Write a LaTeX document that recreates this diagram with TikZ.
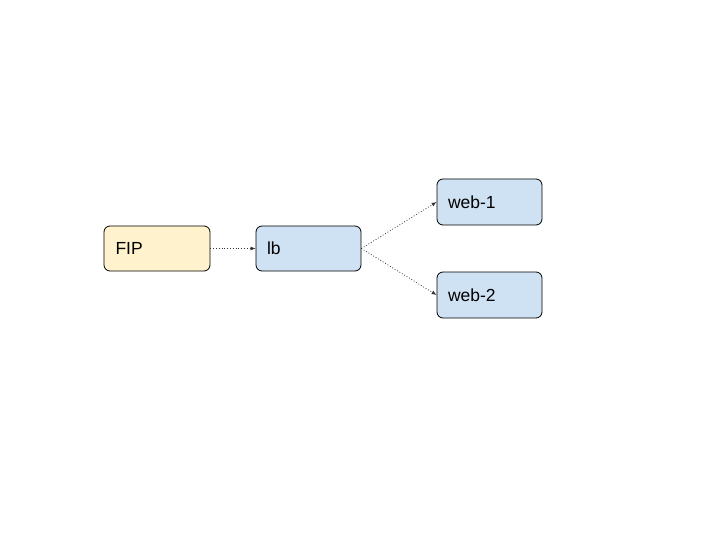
\documentclass[tikz,border=0pt]{standalone}
\usepackage{fontspec}
\setmainfont{Liberation Sans}
\usetikzlibrary{arrows.meta}
\definecolor{fipfill}{HTML}{FFF2CC}
\definecolor{boxfill}{HTML}{CFE2F3}
\definecolor{edge}{HTML}{333333}
\begin{document}
\begin{tikzpicture}[x=1pt,y=-1pt,
  box/.style={draw=black, line width=0.8pt, rounded corners=6pt, minimum width=105pt, minimum height=45pt,
    inner sep=0pt, font=\fontsize{17.5}{21}\selectfont, text width=83pt, align=left, inner xsep=11pt},
  conn/.style={draw=edge, line width=0.8pt, dotted, -{Latex[length=5pt,width=4pt]}}]
\useasboundingbox (0,0) rectangle (720,540);
\node[box, fill=fipfill, minimum width=106pt] (fip) at (157,248.5) {FIP};
\node[box, fill=boxfill] (lb) at (308.5,248.5) {lb};
\node[box, fill=boxfill, minimum height=46pt] (w1) at (489.5,202) {web-1};
\node[box, fill=boxfill, minimum height=46pt] (w2) at (489.5,295) {web-2};
\draw[conn] (fip.east) -- (lb.west);
\draw[conn] (lb.east) -- (w1.west);
\draw[conn] (lb.east) -- (w2.west);
\end{tikzpicture}
\end{document}
